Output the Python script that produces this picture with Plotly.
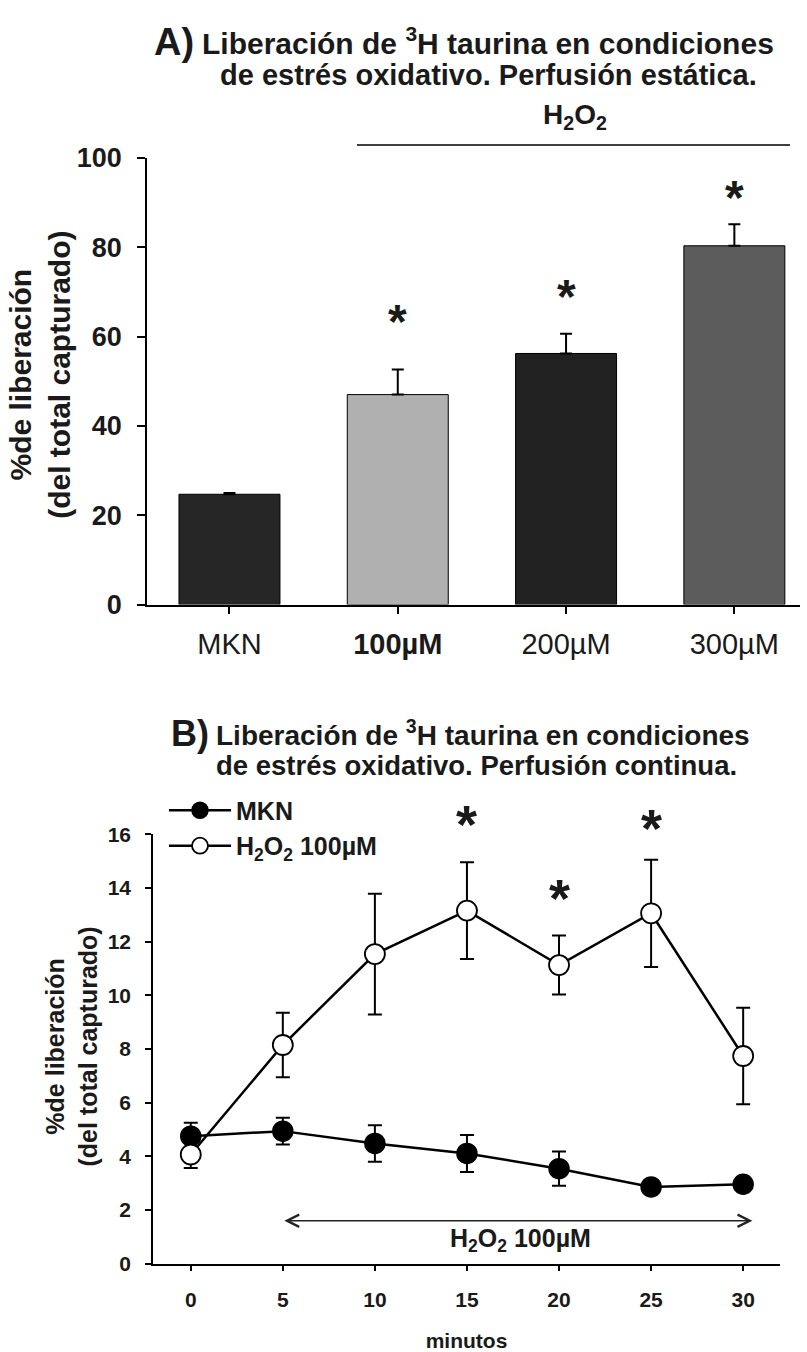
import plotly.graph_objects as go

# ---------------- data ----------------
# Panel A (static perfusion)
categories = ["MKN", "100µM", "200µM", "300µM"]
tick_labels_a = ["MKN", "<b>100µM</b>", "200µM", "300µM"]
release_a = [24.7, 47.0, 56.2, 80.3]
sem_a = [0.3, 5.6, 4.4, 4.8]
star_cats_a = ["100µM", "200µM", "300µM"]
star_y_a = [65.8, 71.5, 93.5]          # centres of significance marks
bar_colors = ["#262626", "#b0b0b0", "#212121", "#5c5c5c"]

# Panel B (continuous perfusion)
minutes = [0, 5, 10, 15, 20, 25, 30]
mkn = [4.75, 4.94, 4.48, 4.11, 3.54, 2.86, 2.96]
mkn_sem = [0.5, 0.5, 0.68, 0.69, 0.64, 0.15, 0.12]
h2o2 = [4.07, 8.15, 11.54, 13.16, 11.13, 13.06, 7.74]
h2o2_sem = [0.5, 1.2, 2.25, 1.8, 1.1, 2.0, 1.8]
star_minutes_b = [15, 20, 25]
star_y_b = [16.84, 14.07, 16.7]
y_range_b = [0, 16]

FONT = "Liberation Sans, Arial, sans-serif"
W, H = 807, 1352


def px_x(p):
    return p / W


def px_y(p):
    return 1 - p / H


fig = go.Figure()

fig.add_trace(go.Bar(
    x=categories, y=release_a, width=0.6,
    marker=dict(color=bar_colors, line=dict(color="black", width=1)),
    error_y=dict(type="data", array=sem_a, arrayminus=[0] * 4, symmetric=False,
                 color="black", thickness=2, width=6),
    xaxis="x", yaxis="y", showlegend=False,
))

fig.add_trace(go.Scatter(
    x=minutes, y=mkn, mode="lines+markers", name="MKN",
    line=dict(color="black", width=2.5),
    marker=dict(symbol="circle", size=20, color="black", line=dict(color="black", width=1.5)),
    error_y=dict(type="data", array=mkn_sem, color="black", thickness=2, width=7),
    xaxis="x2", yaxis="y2",
))
fig.add_trace(go.Scatter(
    x=minutes, y=h2o2, mode="lines+markers", name="H<sub>2</sub>O<sub>2</sub> 100µM",
    line=dict(color="black", width=2.5),
    marker=dict(symbol="circle", size=20, color="white", line=dict(color="black", width=1.8)),
    error_y=dict(type="data", array=h2o2_sem, color="black", thickness=2, width=7),
    xaxis="x2", yaxis="y2",
))

axis_common = dict(showline=True, linecolor="black", linewidth=1.5, ticks="outside",
                   tickcolor="black", tickwidth=1.5, showgrid=False, zeroline=False)

fig.update_layout(
    width=W, height=H,
    margin=dict(l=0, r=0, t=0, b=0),
    paper_bgcolor="white", plot_bgcolor="white",
    font=dict(family=FONT, color="#1a1a1a"),
    xaxis=dict(domain=[px_x(147), px_x(800)], range=[-0.49, 3.39], type="category",
               tickvals=categories, ticktext=tick_labels_a, ticklen=8,
               tickfont=dict(size=29, family=FONT), ticklabelstandoff=5,
               anchor="y", **axis_common),
    yaxis=dict(domain=[px_y(603), px_y(146)], range=[0, 100], tickvals=[0, 20, 40, 60, 80, 100],
               ticklen=8, tickfont=dict(size=27, family=FONT, weight="bold"),
               ticklabelstandoff=10, anchor="x", **axis_common),
    xaxis2=dict(domain=[px_x(153), px_x(780)], range=[-2.05, 32], tickvals=[0, 5, 10, 15, 20, 25, 30],
                ticklen=6, tickfont=dict(size=21, family=FONT, weight="bold"),
                ticklabelstandoff=10, anchor="y2",
                title=dict(text="<b>minutos</b>", font=dict(size=21, family=FONT), standoff=26),
                **axis_common),
    yaxis2=dict(domain=[px_y(1277), px_y(838)], range=y_range_b, tickvals=list(range(0, 17, 2)),
                ticklen=6, tickfont=dict(size=21, family=FONT, weight="bold"),
                ticklabelstandoff=10, anchor="x2", **axis_common),
    legend=dict(x=px_x(164), y=px_y(790), xanchor="left", yanchor="top",
                font=dict(size=25, family=FONT, weight="bold"), itemwidth=62,
                bgcolor="rgba(0,0,0,0)", tracegroupgap=0),
)

ann = []
# Titles
ann.append(dict(text="<b>A)</b>", x=px_x(152), y=px_y(28), xref="paper", yref="paper",
                xanchor="left", yanchor="middle", showarrow=False, font=dict(size=38, family=FONT)))
ann.append(dict(text="<b>Liberación de <sup>3</sup>H taurina en condiciones</b>", x=px_x(200), y=px_y(27),
                xref="paper", yref="paper", xanchor="left", yanchor="middle", showarrow=False,
                font=dict(size=30, family=FONT)))
ann.append(dict(text="<b>de estrés oxidativo. Perfusión estática.</b>", x=px_x(218), y=px_y(61),
                xref="paper", yref="paper", xanchor="left", yanchor="middle", showarrow=False,
                font=dict(size=29, family=FONT)))
ann.append(dict(text="<b>H<sub>2</sub>O<sub>2</sub></b>", x=px_x(575), y=px_y(104), xref="paper", yref="paper",
                xanchor="center", yanchor="middle", showarrow=False, font=dict(size=28, family=FONT)))
ann.append(dict(text="<b>B)</b>", x=px_x(169), y=px_y(735), xref="paper", yref="paper",
                xanchor="left", yanchor="middle", showarrow=False, font=dict(size=36, family=FONT)))
ann.append(dict(text="<b>Liberación de <sup>3</sup>H taurina en condiciones</b>", x=px_x(214), y=px_y(734),
                xref="paper", yref="paper", xanchor="left", yanchor="middle", showarrow=False,
                font=dict(size=28, family=FONT)))
ann.append(dict(text="<b>de estrés oxidativo. Perfusión continua.</b>", x=px_x(214), y=px_y(768),
                xref="paper", yref="paper", xanchor="left", yanchor="middle", showarrow=False,
                font=dict(size=27.5, family=FONT)))
# Y axis titles
ann.append(dict(text="<b>%de liberación<br>(del total capturado)</b>", x=px_x(40), y=px_y(368),
                xref="paper", yref="paper", xanchor="center", yanchor="middle", textangle=-90,
                showarrow=False, font=dict(size=30, family=FONT)))
ann.append(dict(text="<b>%de liberación<br>(del total capturado)</b>", x=px_x(72), y=px_y(1055),
                xref="paper", yref="paper", xanchor="center", yanchor="middle", textangle=-90,
                showarrow=False, font=dict(size=25, family=FONT)))
# Asterisks panel A
for c, sy in zip(star_cats_a, star_y_a):
    ann.append(dict(text="<b>*</b>", x=c, y=sy, xref="x", yref="y", showarrow=False,
                    xanchor="center", yanchor="middle", yshift=-11, font=dict(size=48, family=FONT)))
# Asterisks panel B (some lie above the axis range, so use the axis-domain reference)
span_b = y_range_b[1] - y_range_b[0]
for m, sy in zip(star_minutes_b, star_y_b):
    ann.append(dict(text="<b>*</b>", x=m, y=(sy - y_range_b[0]) / span_b, xref="x2", yref="y2 domain",
                    showarrow=False, xanchor="center", yanchor="middle", yshift=-12,
                    font=dict(size=54, family=FONT)))
# Double arrow (H2O2 application period) and its label
ann.append(dict(text="", x=30.5, y=1.6, ax=5, ay=1.6, xref="x2", yref="y2", axref="x2", ayref="y2",
                showarrow=True, arrowhead=5, startarrowhead=5, arrowside="end+start",
                arrowsize=1.6, startarrowsize=1.6, arrowwidth=1.5, arrowcolor="#222",
                standoff=0, startstandoff=0))
ann.append(dict(text="<b>H<sub>2</sub>O<sub>2</sub> 100µM</b>", x=17.9, y=0.9, xref="x2", yref="y2",
                showarrow=False, xanchor="center", yanchor="middle", font=dict(size=25, family=FONT)))
fig.update_layout(annotations=ann)

# H2O2 bracket line over the treated bars (panel A)
fig.add_shape(type="line", x0=px_x(357), x1=px_x(790), y0=px_y(133), y1=px_y(133),
              xref="paper", yref="paper", line=dict(color="black", width=1.5))

fig.write_html("out.html")
